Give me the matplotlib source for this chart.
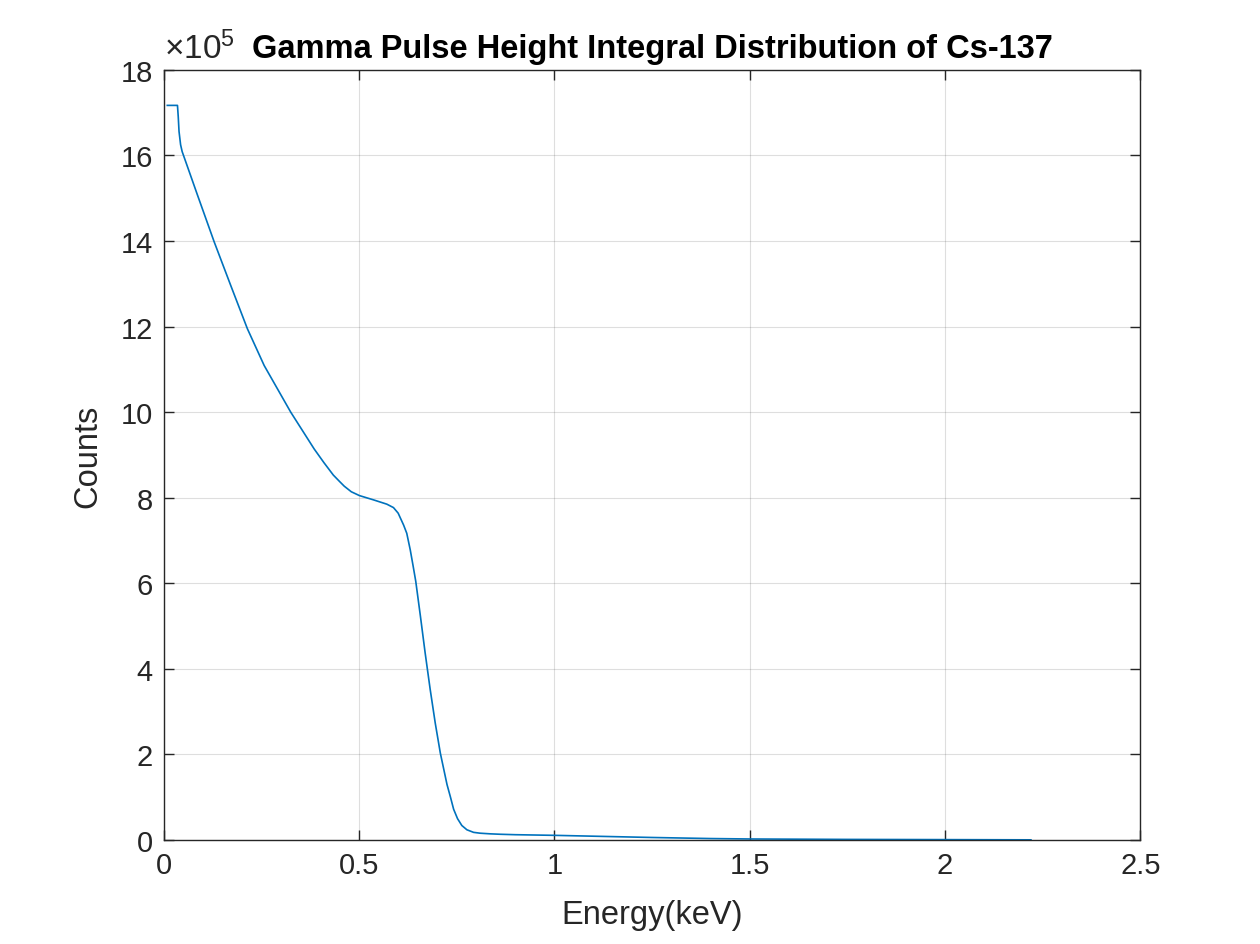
import numpy as np
import matplotlib
matplotlib.use("Agg")
import matplotlib.pyplot as plt

plt.rcParams['font.family'] = ['Liberation Sans', 'DejaVu Sans']
plt.rcParams['mathtext.fontset'] = 'custom'
plt.rcParams['mathtext.rm'] = 'Liberation Sans'
plt.rcParams['mathtext.it'] = 'Liberation Sans:italic'

# integral pulse height distribution (counts in units of 1e5)
energy = [0.009, 0.035, 0.037, 0.039, 0.043, 0.047, 0.086, 0.129, 0.171, 0.214,
          0.257, 0.325, 0.385, 0.410, 0.434, 0.450, 0.462, 0.480, 0.501, 0.537,
          0.571, 0.588, 0.600, 0.614, 0.622, 0.631, 0.638, 0.645, 0.657, 0.669,
          0.682, 0.695, 0.708, 0.725, 0.734, 0.742, 0.752, 0.763, 0.776, 0.793,
          0.810, 0.836, 0.862, 0.90, 1.0, 1.1, 1.25, 1.4, 1.5, 1.75, 2.0, 2.22]
counts_e5 = [17.17, 17.17, 16.9, 16.56, 16.25, 16.09, 15.08, 13.98, 12.97, 11.95,
             11.09, 10.0, 9.14, 8.82, 8.53, 8.38, 8.27, 8.14, 8.05, 7.95,
             7.85, 7.77, 7.64, 7.36, 7.17, 6.78, 6.42, 6.05, 5.23, 4.38,
             3.52, 2.73, 2.03, 1.30, 1.0, 0.72, 0.50, 0.34, 0.24, 0.18,
             0.16, 0.145, 0.135, 0.125, 0.11, 0.09, 0.06, 0.035, 0.025, 0.015, 0.01, 0.005]

fig = plt.figure(figsize=(12.6, 9.45), dpi=100)
ax = fig.add_axes([0.13, 0.11, 0.775, 0.815])
ax.plot(energy, counts_e5, color='#0072BD', lw=1.2)

ax.set_xlim(0, 2.5)
ax.set_ylim(0, 18)
ax.set_xticks(np.arange(0, 2.51, 0.5))
ax.set_yticks(np.arange(0, 18.1, 2))
ax.set_xticklabels(['0', '0.5', '1', '1.5', '2', '2.5'])
ax.grid(True, color='#262626', alpha=0.15, lw=0.8)
ax.tick_params(direction='in', top=True, right=True, length=7, width=1,
               labelsize=21, labelcolor='#262626', color='#262626', pad=8)
for s in ax.spines.values():
    s.set_color('#262626')
    s.set_linewidth(1)

ax.set_xlabel('Energy(keV)', fontsize=23.5, color='#262626', labelpad=14)
ax.set_ylabel('Counts', fontsize=23.5, color='#262626', labelpad=12)
ax.set_title('Gamma Pulse Height Integral Distribution of Cs-137',
             fontsize=23.5, fontweight='bold', pad=9)
ax.text(0, 1.006, r'$\times10^{5}$', transform=ax.transAxes, fontsize=24,
        color='#262626', ha='left', va='bottom')

fig.savefig('out.png', dpi=100)
